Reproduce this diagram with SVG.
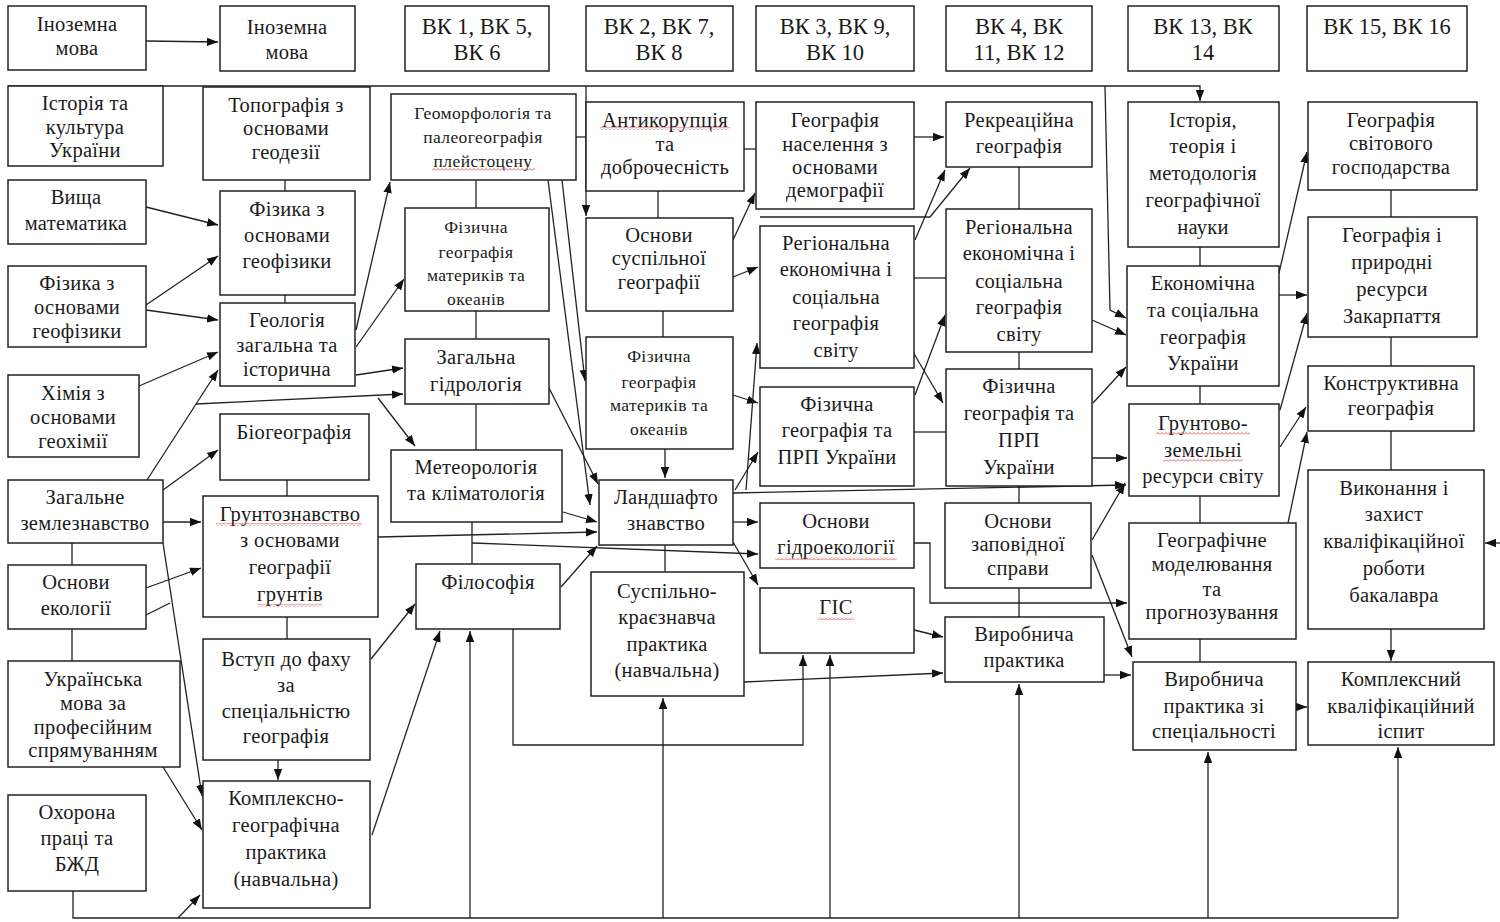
<svg xmlns="http://www.w3.org/2000/svg" width="1500" height="922" viewBox="0 0 1500 922">
<style>
.b{fill:#fff;stroke:#222;stroke-width:1.5}
.t{font-family:"Liberation Serif","Times New Roman",serif;font-size:20.5px;letter-spacing:0.3px;fill:#1a1a1a;text-anchor:middle}
.s{font-size:17.5px;letter-spacing:0.4px}
.h{font-size:22.5px;letter-spacing:0}
.c{fill:none;stroke:#222;stroke-width:1.3}
.a{marker-end:url(#ah)}
.w{fill:url(#wave)}
</style>
<defs>
<marker id="ah" markerWidth="12" markerHeight="10" refX="11" refY="5" orient="auto" markerUnits="userSpaceOnUse">
<path d="M0,0.8 L11,5 L0,9.2 Z" fill="#111"/>
</marker>
<pattern id="wave" width="4" height="3" patternUnits="userSpaceOnUse">
<path d="M0,2.5 L2,0.5 L4,2.5" fill="none" stroke="#d33" stroke-width="0.8"/>
</pattern>
</defs>
<rect width="1500" height="922" fill="#fff"/>

<g id="connectors">
<path class="c a" d="M146,41 L218,42"/>
<path class="c a" d="M146,207 L218,225"/>
<path class="c a" d="M146,305 L218,256"/>
<path class="c a" d="M146,310 L218,320"/>
<path class="c a" d="M139,386 L218,352"/>
<path class="c a" d="M147,480 L218,370"/>
<path class="c a" d="M196,404 L403,394"/>
<path class="c a" d="M378,398 L415,446"/>
<path class="c a" d="M163,490 L218,450"/>
<path class="c a" d="M163,522 L201,522"/>
<path class="c a" d="M163,543 L202,796"/>
<path class="c" d="M72,543 V565"/>
<path class="c a" d="M146,588 L201,568"/>
<path class="c" d="M146,615 L170,603"/>
<path class="c" d="M72,629 V661"/>
<path class="c a" d="M163,767 L202,830"/>
<path class="c" d="M73,891 V918 H1398"/>
<path class="c a" d="M178,918 L200,895"/>
<path class="c a" d="M470,918 V631"/>
<path class="c a" d="M663,918 V698"/>
<path class="c a" d="M830,918 V655"/>
<path class="c a" d="M1019,918 V684"/>
<path class="c a" d="M1208,918 V752"/>
<path class="c a" d="M1398,918 V747"/>
<path class="c a" d="M513,629 V745 H803 V655"/>
<path class="c a" d="M371,659 L415,604"/>
<path class="c a" d="M372,835 L440,631"/>
<path class="c" d="M285,180 V191"/>
<path class="c" d="M285,295 V303"/>
<path class="c" d="M287,480 V496"/>
<path class="c" d="M287,617 V639"/>
<path class="c a" d="M278,760 V780"/>
<path class="c a" d="M356,330 L390,182"/>
<path class="c a" d="M356,347 L404,279"/>
<path class="c a" d="M356,375 L403,368"/>
<path class="c" d="M476,180 V208"/>
<path class="c" d="M476,311 V339"/>
<path class="c" d="M476,404 V450"/>
<path class="c" d="M472,522 V564"/>
<path class="c a" d="M8,86 H1200 V101"/>
<path class="c a" d="M586,86 V216"/>
<path class="c" d="M576,137 H586"/>
<path class="c a" d="M548,180 L590,505"/>
<path class="c a" d="M562,180 L585,381"/>
<path class="c a" d="M549,388 L598,484"/>
<path class="c a" d="M563,512 L597,522"/>
<path class="c a" d="M378,537 L597,532"/>
<path class="c a" d="M472,543 L758,554"/>
<path class="c a" d="M561,587 L597,546"/>
<path class="c" d="M658,191 V218"/>
<path class="c" d="M744,149 H756"/>
<path class="c a" d="M733,240 L755,193"/>
<path class="c a" d="M733,277 L758,267"/>
<path class="c" d="M663,311 V337"/>
<path class="c a" d="M665,449 V478"/>
<path class="c a" d="M733,395 L758,403"/>
<path class="c a" d="M735,490 L758,452"/>
<path class="c a" d="M746,490 L757,343"/>
<path class="c a" d="M733,493 L1126,485"/>
<path class="c a" d="M733,522 H758"/>
<path class="c a" d="M733,542 L758,585"/>
<path class="c" d="M665,545 V572"/>
<path class="c a" d="M744,682 L943,673"/>
<path class="c a" d="M914,137 H944"/>
<path class="c a" d="M760,217 H930 L970,168"/>
<path class="c a" d="M915,240 L945,170"/>
<path class="c" d="M914,278 H946"/>
<path class="c a" d="M913,352 L943,403"/>
<path class="c a" d="M915,395 L945,315"/>
<path class="c" d="M914,432 H946"/>
<path class="c" d="M1019,167 V209"/>
<path class="c" d="M1019,352 V369"/>
<path class="c" d="M1019,486 V503"/>
<path class="c" d="M1019,588 V617"/>
<path class="c a" d="M914,543 H930 V603 H1127"/>
<path class="c a" d="M914,630 L943,637"/>
<path class="c a" d="M1092,540 L1125,483"/>
<path class="c a" d="M1092,555 L1132,657"/>
<path class="c a" d="M1104,675 H1131"/>
<path class="c a" d="M1105,86 L1110,310 L1126,318"/>
<path class="c a" d="M1092,320 L1126,335"/>
<path class="c a" d="M1093,403 L1126,367"/>
<path class="c a" d="M1092,458 H1127"/>
<path class="c" d="M1200,247 V266"/>
<path class="c" d="M1200,386 V404"/>
<path class="c" d="M1200,496 V523"/>
<path class="c" d="M1200,639 V662"/>
<path class="c a" d="M1279,273 L1307,152"/>
<path class="c a" d="M1279,295 H1307"/>
<path class="c a" d="M1280,410 L1307,313"/>
<path class="c a" d="M1280,447 L1306,407"/>
<path class="c a" d="M1288,523 L1307,432"/>
<path class="c" d="M1391,190 V217"/>
<path class="c" d="M1391,337 V366"/>
<path class="c" d="M1391,431 V470"/>
<path class="c a" d="M1391,629 V661"/>
<path class="c a" d="M1296,707 H1307"/>
<path class="c a" d="M1500,543 H1485"/>
</g>

<g id="n01"><rect class="b" x="8" y="6" width="138" height="64"/><text class="t"><tspan x="77" y="31">Іноземна</tspan><tspan x="77" y="55">мова</tspan></text></g>
<g id="n02"><rect class="b" x="220" y="6" width="135" height="65"/><text class="t"><tspan x="287" y="34">Іноземна</tspan><tspan x="287" y="59">мова</tspan></text></g>
<g id="n03"><rect class="b" x="405" y="6" width="144" height="65"/><text class="t h"><tspan x="477" y="34">ВК 1, ВК 5,</tspan><tspan x="477" y="60">ВК 6</tspan></text></g>
<g id="n04"><rect class="b" x="586" y="6" width="147" height="65"/><text class="t h"><tspan x="659" y="34">ВК 2, ВК 7,</tspan><tspan x="659" y="60">ВК 8</tspan></text></g>
<g id="n05"><rect class="b" x="756" y="6" width="158" height="65"/><text class="t h"><tspan x="835" y="34">ВК 3, ВК 9,</tspan><tspan x="835" y="60">ВК 10</tspan></text></g>
<g id="n06"><rect class="b" x="946" y="6" width="146" height="65"/><text class="t h"><tspan x="1019" y="34">ВК 4, ВК</tspan><tspan x="1019" y="60">11, ВК 12</tspan></text></g>
<g id="n07"><rect class="b" x="1128" y="6" width="151" height="65"/><text class="t h"><tspan x="1203" y="34">ВК 13, ВК</tspan><tspan x="1203" y="60">14</tspan></text></g>
<g id="n08"><rect class="b" x="1307" y="6" width="160" height="65"/><text class="t h"><tspan x="1387" y="34">ВК 15, ВК 16</tspan></text></g>

<g id="n09"><rect class="b" x="8" y="86" width="155" height="80"/><text class="t"><tspan x="85" y="110">Історія та</tspan><tspan x="85" y="134">культура</tspan><tspan x="85" y="157">України</tspan></text></g>
<g id="n10"><rect class="b" x="203" y="87" width="167" height="93"/><text class="t"><tspan x="286" y="112">Топографія з</tspan><tspan x="286" y="135">основами</tspan><tspan x="286" y="159">геодезії</tspan></text></g>
<g id="n11"><rect class="b" x="391" y="94" width="185" height="86"/><text class="t s"><tspan x="483" y="119">Геоморфологія та</tspan><tspan x="483" y="143">палеогеографія</tspan><tspan x="483" y="167">плейстоцену</tspan></text></g>
<g id="n12"><rect class="b" x="586" y="102" width="158" height="89"/><text class="t"><tspan x="665" y="127">Антикорупція</tspan><tspan x="665" y="151">та</tspan><tspan x="665" y="174">доброчесність</tspan></text></g>
<g id="n13"><rect class="b" x="756" y="102" width="158" height="107"/><text class="t"><tspan x="835" y="127">Географія</tspan><tspan x="835" y="151">населення з</tspan><tspan x="835" y="174">основами</tspan><tspan x="835" y="197">демографії</tspan></text></g>
<g id="n14"><rect class="b" x="946" y="102" width="146" height="65"/><text class="t"><tspan x="1019" y="127">Рекреаційна</tspan><tspan x="1019" y="153">географія</tspan></text></g>
<g id="n15"><rect class="b" x="1128" y="102" width="151" height="145"/><text class="t"><tspan x="1203" y="127">Історія,</tspan><tspan x="1203" y="153">теорія і</tspan><tspan x="1203" y="180">методологія</tspan><tspan x="1203" y="207">географічної</tspan><tspan x="1203" y="234">науки</tspan></text></g>
<g id="n16"><rect class="b" x="1308" y="102" width="169" height="88"/><text class="t"><tspan x="1391" y="127">Географія</tspan><tspan x="1391" y="150">світового</tspan><tspan x="1391" y="174">господарства</tspan></text></g>

<g id="n17"><rect class="b" x="8" y="180" width="138" height="64"/><text class="t"><tspan x="76" y="204">Вища</tspan><tspan x="76" y="230">математика</tspan></text></g>
<g id="n18"><rect class="b" x="220" y="191" width="135" height="104"/><text class="t"><tspan x="287" y="216">Фізика з</tspan><tspan x="287" y="242">основами</tspan><tspan x="287" y="268">геофізики</tspan></text></g>
<g id="n19"><rect class="b" x="405" y="208" width="144" height="103"/><text class="t s"><tspan x="476" y="233">Фізична</tspan><tspan x="476" y="258">географія</tspan><tspan x="476" y="281">материків та</tspan><tspan x="476" y="305">океанів</tspan></text></g>
<g id="n20"><rect class="b" x="586" y="218" width="147" height="93"/><text class="t"><tspan x="659" y="242">Основи</tspan><tspan x="659" y="265">суспільної</tspan><tspan x="659" y="289">географії</tspan></text></g>
<g id="n21"><rect class="b" x="760" y="226" width="154" height="142"/><text class="t"><tspan x="836" y="250">Регіональна</tspan><tspan x="836" y="276">економічна і</tspan><tspan x="836" y="304">соціальна</tspan><tspan x="836" y="330">географія</tspan><tspan x="836" y="357">світу</tspan></text></g>
<g id="n22"><rect class="b" x="946" y="209" width="146" height="143"/><text class="t"><tspan x="1019" y="234">Регіональна</tspan><tspan x="1019" y="260">економічна і</tspan><tspan x="1019" y="288">соціальна</tspan><tspan x="1019" y="314">географія</tspan><tspan x="1019" y="341">світу</tspan></text></g>
<g id="n23"><rect class="b" x="1127" y="266" width="152" height="120"/><text class="t"><tspan x="1203" y="290">Економічна</tspan><tspan x="1203" y="317">та соціальна</tspan><tspan x="1203" y="344">географія</tspan><tspan x="1203" y="370">України</tspan></text></g>
<g id="n24"><rect class="b" x="1308" y="217" width="169" height="120"/><text class="t"><tspan x="1392" y="242">Географія і</tspan><tspan x="1392" y="269">природні</tspan><tspan x="1392" y="296">ресурси</tspan><tspan x="1392" y="323">Закарпаття</tspan></text></g>

<g id="n25"><rect class="b" x="8" y="266" width="138" height="81"/><text class="t"><tspan x="77" y="290">Фізика з</tspan><tspan x="77" y="314">основами</tspan><tspan x="77" y="338">геофізики</tspan></text></g>
<g id="n26"><rect class="b" x="220" y="303" width="135" height="83"/><text class="t"><tspan x="287" y="327">Геологія</tspan><tspan x="287" y="352">загальна та</tspan><tspan x="287" y="376">історична</tspan></text></g>
<g id="n27"><rect class="b" x="405" y="339" width="144" height="65"/><text class="t"><tspan x="476" y="364">Загальна</tspan><tspan x="476" y="391">гідрологія</tspan></text></g>
<g id="n28"><rect class="b" x="586" y="337" width="147" height="112"/><text class="t s"><tspan x="659" y="362">Фізична</tspan><tspan x="659" y="388">географія</tspan><tspan x="659" y="411">материків та</tspan><tspan x="659" y="435">океанів</tspan></text></g>
<g id="n29"><rect class="b" x="760" y="387" width="154" height="99"/><text class="t"><tspan x="837" y="411">Фізична</tspan><tspan x="837" y="437">географія та</tspan><tspan x="837" y="464">ПРП України</tspan></text></g>
<g id="n30"><rect class="b" x="946" y="369" width="146" height="117"/><text class="t"><tspan x="1019" y="393">Фізична</tspan><tspan x="1019" y="420">географія та</tspan><tspan x="1019" y="447">ПРП</tspan><tspan x="1019" y="474">України</tspan></text></g>
<g id="n31"><rect class="b" x="1129" y="404" width="150" height="92"/><text class="t"><tspan x="1203" y="430">Грунтово-</tspan><tspan x="1203" y="457">земельні</tspan><tspan x="1203" y="483">ресурси світу</tspan></text></g>
<g id="n32"><rect class="b" x="1308" y="366" width="166" height="65"/><text class="t"><tspan x="1391" y="390">Конструктивна</tspan><tspan x="1391" y="415">географія</tspan></text></g>

<g id="n33"><rect class="b" x="8" y="375" width="131" height="82"/><text class="t"><tspan x="73" y="400">Хімія з</tspan><tspan x="73" y="424">основами</tspan><tspan x="73" y="448">геохімії</tspan></text></g>
<g id="n34"><rect class="b" x="220" y="414" width="149" height="66"/><text class="t"><tspan x="294" y="439">Біогеографія</tspan></text></g>
<g id="n35"><rect class="b" x="391" y="450" width="171" height="72"/><text class="t"><tspan x="476" y="474">Метеорологія</tspan><tspan x="476" y="500">та кліматологія</tspan></text></g>
<g id="n36"><rect class="b" x="599" y="480" width="134" height="65"/><text class="t"><tspan x="666" y="504">Ландшафто</tspan><tspan x="666" y="530">знавство</tspan></text></g>
<g id="n37"><rect class="b" x="760" y="503" width="154" height="65"/><text class="t"><tspan x="836" y="528">Основи</tspan><tspan x="836" y="554">гідроекології</tspan></text></g>
<g id="n38"><rect class="b" x="945" y="503" width="146" height="85"/><text class="t"><tspan x="1018" y="528">Основи</tspan><tspan x="1018" y="551">заповідної</tspan><tspan x="1018" y="575">справи</tspan></text></g>
<g id="n39"><rect class="b" x="1129" y="523" width="167" height="116"/><text class="t"><tspan x="1212" y="547">Географічне</tspan><tspan x="1212" y="571">моделювання</tspan><tspan x="1212" y="596">та</tspan><tspan x="1212" y="619">прогнозування</tspan></text></g>
<g id="n40"><rect class="b" x="1308" y="470" width="176" height="159"/><text class="t"><tspan x="1394" y="495">Виконання  і</tspan><tspan x="1394" y="521">захист</tspan><tspan x="1394" y="548">кваліфікаційної</tspan><tspan x="1394" y="575">роботи</tspan><tspan x="1394" y="602">бакалавра</tspan></text></g>

<g id="n41"><rect class="b" x="8" y="480" width="155" height="63"/><text class="t"><tspan x="85" y="504">Загальне</tspan><tspan x="85" y="530">землезнавство</tspan></text></g>
<g id="n42"><rect class="b" x="203" y="496" width="175" height="121"/><text class="t"><tspan x="290" y="521">Грунтознавство</tspan><tspan x="290" y="547">з основами</tspan><tspan x="290" y="574">географії</tspan><tspan x="290" y="601">грунтів</tspan></text></g>
<g id="n43"><rect class="b" x="8" y="565" width="138" height="64"/><text class="t"><tspan x="76" y="589">Основи</tspan><tspan x="76" y="615">екології</tspan></text></g>
<g id="n44"><rect class="b" x="416" y="564" width="144" height="65"/><text class="t"><tspan x="488" y="589">Філософія</tspan></text></g>
<g id="n45"><rect class="b" x="591" y="572" width="153" height="124"/><text class="t"><tspan x="667" y="598">Суспільно-</tspan><tspan x="667" y="624">краєзнавча</tspan><tspan x="667" y="651">практика</tspan><tspan x="667" y="677">(навчальна)</tspan></text></g>
<g id="n46"><rect class="b" x="760" y="588" width="154" height="65"/><text class="t"><tspan x="836" y="614">ГІС</tspan></text></g>
<g id="n47"><rect class="b" x="945" y="617" width="159" height="65"/><text class="t"><tspan x="1024" y="641">Виробнича</tspan><tspan x="1024" y="667">практика</tspan></text></g>
<g id="n48"><rect class="b" x="8" y="661" width="172" height="106"/><text class="t"><tspan x="93" y="686">Українська</tspan><tspan x="93" y="710">мова за</tspan><tspan x="93" y="734">професійним</tspan><tspan x="93" y="757">спрямуванням</tspan></text></g>
<g id="n49"><rect class="b" x="203" y="639" width="167" height="121"/><text class="t"><tspan x="286" y="666">Вступ до фаху</tspan><tspan x="286" y="692">за</tspan><tspan x="286" y="718">спеціальністю</tspan><tspan x="286" y="743">географія</tspan></text></g>
<g id="n50"><rect class="b" x="1133" y="662" width="163" height="88"/><text class="t"><tspan x="1214" y="686">Виробнича</tspan><tspan x="1214" y="713">практика зі</tspan><tspan x="1214" y="738">спеціальності</tspan></text></g>
<g id="n51"><rect class="b" x="1308" y="662" width="186" height="83"/><text class="t"><tspan x="1401" y="686">Комплексний</tspan><tspan x="1401" y="713">кваліфікаційний</tspan><tspan x="1401" y="738">іспит</tspan></text></g>
<g id="n52"><rect class="b" x="8" y="795" width="138" height="96"/><text class="t"><tspan x="77" y="819">Охорона</tspan><tspan x="77" y="845">праці та</tspan><tspan x="77" y="871">БЖД</tspan></text></g>
<g id="n53"><rect class="b" x="203" y="781" width="167" height="127"/><text class="t"><tspan x="286" y="805">Комплексно-</tspan><tspan x="286" y="832">географічна</tspan><tspan x="286" y="859">практика</tspan><tspan x="286" y="886">(навчальна)</tspan></text></g>

<g id="spellcheck">
<rect class="w" x="600" y="127" width="130" height="3"/>
<rect class="w" x="432" y="168" width="103" height="3"/>
<rect class="w" x="216" y="523" width="146" height="3"/>
<rect class="w" x="258" y="604" width="64" height="3"/>
<rect class="w" x="1156" y="432" width="94" height="3"/>
<rect class="w" x="1163" y="459" width="80" height="3"/>
<rect class="w" x="775" y="557" width="122" height="3"/>
<rect class="w" x="818" y="617" width="36" height="3"/>
</g>
</svg>
